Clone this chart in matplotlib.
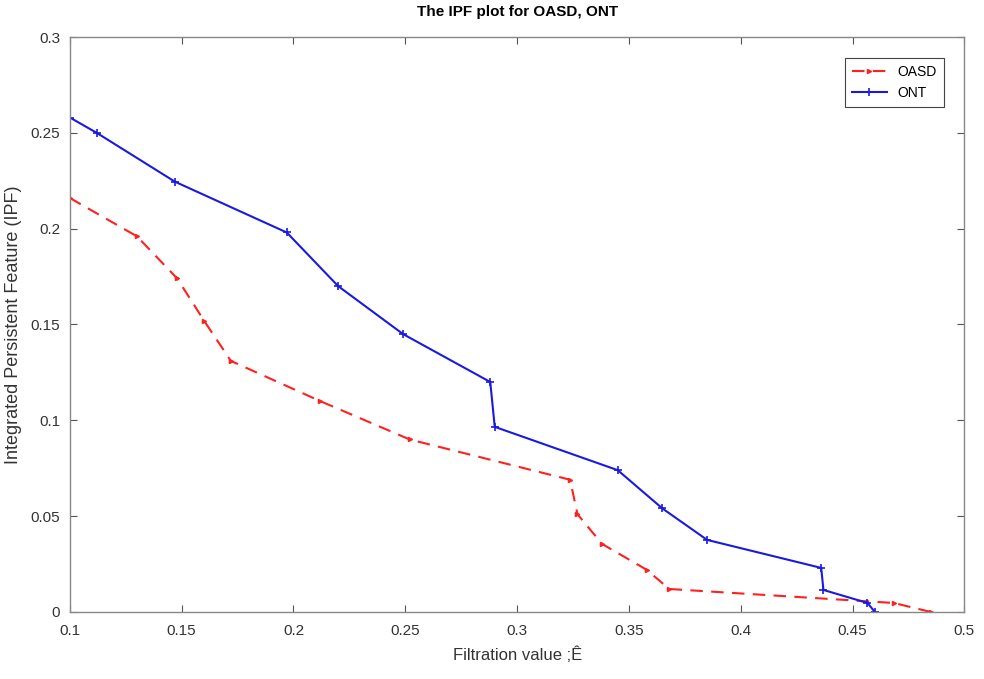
import numpy as np
import matplotlib
matplotlib.use("Agg")
import matplotlib.pyplot as plt

# data
oasd_x = [0.100, 0.130, 0.148, 0.160, 0.172, 0.212, 0.252, 0.3237, 0.327, 0.338, 0.358, 0.368, 0.4685, 0.485]
oasd_y = [0.216, 0.196, 0.174, 0.152, 0.131, 0.110, 0.090, 0.069, 0.051, 0.0355, 0.022, 0.012, 0.0047, 0.0]

ont_x = [0.100, 0.112, 0.147, 0.197, 0.220, 0.249, 0.288, 0.290, 0.345, 0.365, 0.385, 0.436, 0.437, 0.4567, 0.460]
ont_y = [0.258, 0.250, 0.2245, 0.198, 0.170, 0.145, 0.120, 0.0966, 0.074, 0.054, 0.0376, 0.023, 0.0115, 0.0047, 0.0]

xticks = [0.1, 0.15, 0.2, 0.25, 0.3, 0.35, 0.4, 0.45, 0.5]
yticks = [0, 0.05, 0.1, 0.15, 0.2, 0.25, 0.3]

plt.rcParams['font.family'] = ['Liberation Sans', 'DejaVu Sans']

fig = plt.figure(figsize=(9.84, 6.79), dpi=100)
ax = fig.add_axes([0.071, 0.0987, 0.909, 0.8468])

ax.plot(oasd_x, oasd_y, color='#ff2020', linestyle=(0, (6, 4)), linewidth=1.5,
        marker='>', markersize=3, label='OASD')
ax.plot(ont_x, ont_y, color='#1a1adf', linestyle='-', linewidth=1.5,
        marker='+', markersize=6, markeredgewidth=1.2, label='ONT')

ax.set_xlim(0.1, 0.5)
ax.set_ylim(0, 0.3)
ax.set_xticks(xticks)
ax.set_xticklabels([f"{v:g}" for v in xticks])
ax.set_yticks(yticks)
ax.set_yticklabels([f"{v:g}" for v in yticks])

ax.tick_params(direction='in', top=True, right=True, length=5, width=0.8,
               colors='#555555', labelsize=11, labelcolor='#333333')
ax.tick_params(axis='x', pad=9)
ax.tick_params(axis='y', pad=7)
for s in ax.spines.values():
    s.set_color('#888888')
    s.set_linewidth(1.0)

ax.set_title('The IPF plot for OASD, ONT', fontsize=11, fontweight='bold', pad=15)
ax.set_xlabel('Filtration value ;\u00ca', fontsize=12, color='#333333', labelpad=6)
ax.set_ylabel('Integrated Persistent Feature (IPF)', fontsize=13, color='#333333', labelpad=6)

leg = ax.legend(loc='upper right', fontsize=10, fancybox=False, framealpha=1,
                edgecolor='#444444', handlelength=2.5, borderpad=0.5,
                bbox_to_anchor=(0.985, 0.975))
leg.get_frame().set_linewidth(0.8)

fig.savefig('out.png', dpi=100)
